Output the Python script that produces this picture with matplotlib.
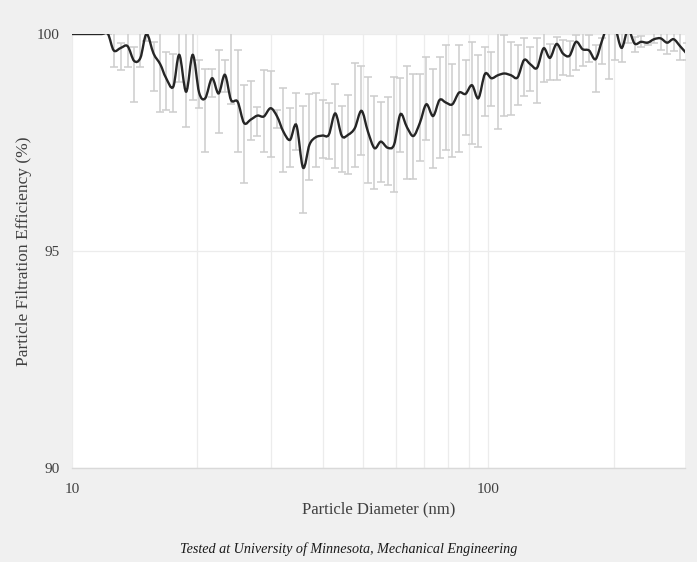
import numpy as np
import matplotlib
matplotlib.use("Agg")
import matplotlib.pyplot as plt
from matplotlib.path import Path
from matplotlib.patches import PathPatch

# particle diameter bins (nm), 64 channels per decade
diameter = [9.82, 10.2, 10.6, 10.9, 11.3, 11.8, 12.2, 12.6, 13.1, 13.6, 14.1, 14.6,
            15.1, 15.7, 16.3, 16.8, 17.5, 18.1, 18.8, 19.5, 20.2, 20.9, 21.7, 22.5,
            23.3, 24.1, 25.0, 25.9, 26.9, 27.9, 28.9, 30.0, 31.1, 32.2, 33.4, 34.6,
            35.9, 37.2, 38.5, 40.0, 41.4, 42.9, 44.5, 46.1, 47.8, 49.6, 51.4, 53.3,
            55.2, 57.3, 59.4, 61.5, 63.8, 66.1, 68.5, 71.0, 73.7, 76.4, 79.1, 82.0,
            85.1, 88.2, 91.4, 94.7, 98.2, 101.8, 105.5, 109.4, 113.4, 117.6, 121.9,
            126.3, 131.0, 135.8, 140.7, 145.9, 151.2, 156.8, 162.5, 168.5, 174.7,
            181.1, 187.7, 194.6, 201.7, 209.1, 216.7, 224.7, 232.9, 241.4, 250.3,
            259.5, 269.0, 278.8, 289.0, 299.6]

# filtration efficiency (%)
efficiency = [100.0, 100.0, 100.0, 100.0, 100.0, 100.0, 100.0, 99.62, 99.68, 99.72,
              99.38, 99.45, 100.0, 99.55, 99.30, 99.00, 98.78, 99.52, 98.67, 99.52,
              98.65, 98.52, 98.98, 98.63, 99.06, 98.48, 98.44, 97.95, 98.03, 98.12,
              98.10, 98.29, 98.10, 97.75, 97.56, 97.90, 96.92, 97.45, 97.62, 97.66,
              97.68, 98.17, 97.65, 97.68, 97.83, 98.23, 97.75, 97.37, 97.52, 97.38,
              97.45, 98.15, 97.85, 97.65, 97.95, 98.38, 98.11, 98.48, 98.42, 98.38,
              98.65, 98.62, 98.82, 98.52, 99.08, 98.98, 99.05, 99.09, 99.05, 99.00,
              99.40, 99.30, 99.22, 99.67, 99.45, 99.77, 99.55, 99.50, 99.82, 99.65,
              99.62, 99.42, 99.85, 100.25, 100.15, 99.68, 100.10, 99.78, 99.82, 99.80,
              99.88, 99.90, 99.80, 99.88, 99.72, 99.55]

# error bar ends (%)
err_high = [100.0, 100.0, 100.0, 100.0, 100.0, 100.0, 100.0, 100.05, 99.80, 100.05,
            99.69, 100.05, 100.15, 99.82, 100.05, 99.59, 99.55, 100.05, 100.05, 100.05,
            99.40, 99.19, 99.19, 99.63, 99.40, 100.05, 99.62, 98.82, 98.92, 98.31,
            99.17, 99.14, 98.25, 98.75, 98.29, 98.63, 98.34, 98.62, 98.65, 98.49,
            98.40, 98.84, 98.34, 98.59, 99.34, 99.26, 99.00, 98.56, 98.44, 98.54,
            99.02, 98.98, 99.26, 99.08, 99.08, 99.46, 99.19, 99.46, 99.75, 99.31,
            99.75, 99.39, 99.82, 99.52, 99.70, 99.59, 100.05, 99.98, 99.82, 99.75,
            99.90, 99.71, 99.90, 100.05, 99.77, 99.94, 99.86, 99.85, 99.98, 100.05,
            99.98, 99.75, 99.90, 100.05, 100.05, 100.05, 100.05, 99.94, 99.95, 99.82,
            100.05, 100.05, 100.05, 100.05, 100.05, 99.79]
err_low = [100.0, 100.0, 100.0, 100.0, 100.0, 100.0, 100.0, 99.23, 99.17, 99.25,
           98.44, 99.23, 99.85, 98.69, 98.21, 98.26, 98.21, 98.90, 97.85, 98.49,
           98.29, 97.27, 98.55, 97.71, 98.67, 98.39, 97.27, 96.56, 97.56, 97.65,
           97.28, 97.17, 97.83, 96.83, 96.93, 97.33, 95.87, 96.64, 96.93, 97.14,
           97.12, 96.91, 96.83, 96.77, 96.93, 97.21, 96.57, 96.42, 96.60, 96.52,
           96.37, 97.27, 96.65, 96.65, 97.08, 97.56, 96.91, 97.14, 97.33, 97.16,
           97.29, 97.67, 97.47, 97.40, 98.11, 98.34, 97.80, 98.11, 98.13, 98.36,
           98.57, 98.69, 98.42, 98.90, 98.94, 98.94, 99.06, 99.03, 99.17, 99.26,
           99.36, 98.67, 99.32, 98.96, 99.40, 99.36, 99.80, 99.58, 99.70, 99.75,
           99.79, 99.62, 99.55, 99.60, 99.40, 99.40]

y_ticks = [90, 95, 100]
x_ticks = [10, 100]

TEXT = '#404040'
plt.rcParams['font.family'] = ['Liberation Serif', 'DejaVu Serif']


def smooth_path(x, y):
    # Excel-style smoothed line: cubic Bezier segments through every point,
    # built in log-x space so the curve looks right on the log axis
    lx = np.log10(x)
    y = np.asarray(y, dtype=float)
    n = len(lx)
    verts = [(x[0], y[0])]
    codes = [Path.MOVETO]
    for i in range(n - 1):
        i0, i3 = max(i - 1, 0), min(i + 2, n - 1)
        c1 = (lx[i] + (lx[i + 1] - lx[i0]) / 6, y[i] + (y[i + 1] - y[i0]) / 6)
        c2 = (lx[i + 1] - (lx[i3] - lx[i]) / 6, y[i + 1] - (y[i3] - y[i]) / 6)
        verts += [(10 ** c1[0], c1[1]), (10 ** c2[0], c2[1]), (x[i + 1], y[i + 1])]
        codes += [Path.CURVE4] * 3
    return Path(verts, codes)


def main():
    d = np.array(diameter)
    eff = np.array(efficiency)
    lo = np.clip(eff - np.array(err_low), 0, None)
    hi = np.clip(np.array(err_high) - eff, 0, None)

    fig = plt.figure(figsize=(6.97, 5.62), dpi=100, facecolor='#f0f0f0')
    ax = fig.add_axes([0.1033, 0.1673, 0.8795, 0.7722])
    ax.set_facecolor('white')

    ax.errorbar(d, eff, yerr=[lo, hi], fmt='none', ecolor='#cdcdcd',
                elinewidth=1.1, capsize=3.2, capthick=1.1, zorder=2)
    ax.add_patch(PathPatch(smooth_path(d, eff), fill=False, edgecolor='#262626',
                           lw=1.7, zorder=3))

    ax.set_xscale('log')
    ax.set_xlim(10, 297)
    ax.set_ylim(90, 100)
    ax.set_xticks(x_ticks)
    ax.set_xticklabels([str(t) for t in x_ticks])
    ax.set_yticks(y_ticks)
    ax.set_yticklabels([str(t) for t in y_ticks])
    ax.xaxis.set_minor_formatter(plt.NullFormatter())

    ax.grid(True, which='both', axis='x', color='#ececec', lw=0.9, zorder=0)
    ax.grid(True, which='major', axis='y', color='#ececec', lw=0.9, zorder=0)
    ax.tick_params(which='both', length=0, labelsize=11, colors=TEXT)
    ax.tick_params(axis='x', pad=11)
    ax.tick_params(axis='y', pad=9)

    for side in ['top', 'right', 'left']:
        ax.spines[side].set_visible(False)
    ax.spines['bottom'].set_color('#d9d9d9')
    ax.spines['bottom'].set_linewidth(1.0)

    ax.set_xlabel('Particle Diameter (nm)', fontsize=12, color=TEXT, labelpad=4)
    ax.set_ylabel('Particle Filtration Efficiency (%)', fontsize=12.5, color=TEXT)
    ax.yaxis.set_label_coords(-0.066, 0.5)
    fig.text(0.5, 0.023, 'Tested at University of Minnesota, Mechanical Engineering',
             ha='center', va='center', fontsize=10.2, style='italic', color='#1a1a1a')

    fig.savefig('out.png', dpi=100, facecolor=fig.get_facecolor())


if __name__ == '__main__':
    main()
